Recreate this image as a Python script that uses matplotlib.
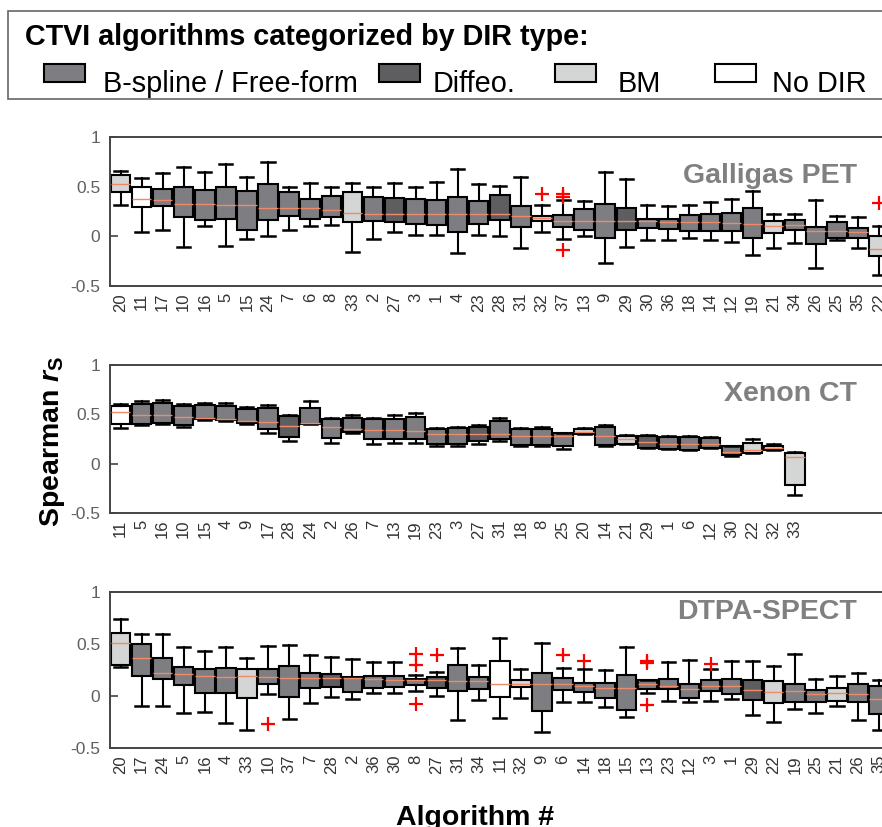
import numpy as np
import matplotlib
matplotlib.use("Agg")
import matplotlib.pyplot as plt
from matplotlib.patches import Rectangle

plt.rcParams['font.family'] = ['Liberation Sans', 'DejaVu Sans']
plt.rcParams['mathtext.fontset'] = 'custom'
plt.rcParams['mathtext.rm'] = 'Liberation Sans:bold'
plt.rcParams['mathtext.it'] = 'Liberation Sans:bold:italic'

# DIR type of each algorithm number
BM = [20, 21, 22, 32, 33]
DIFFEO = [27, 28, 29]
NO_DIR = [11]

COLORS = {"bspline": "#7d7d82", "diffeo": "#5e5e61", "bm": "#d4d5d5", "nodir": "#ffffff"}

def dir_type(alg):
  if alg in BM:
    return "bm"
  if alg in DIFFEO:
    return "diffeo"
  if alg in NO_DIR:
    return "nodir"
  return "bspline"

# ---- Galligas PET ----
pet_labels = [20, 11, 17, 10, 16, 5, 15, 24, 7, 6, 8, 33, 2, 27, 3, 1, 4, 23, 28,
              31, 32, 37, 13, 9, 29, 30, 36, 18, 14, 12, 19, 21, 34, 26, 25, 35, 22]
pet_q1 = [0.45, 0.29, 0.31, 0.19, 0.16, 0.17, 0.06, 0.16, 0.20, 0.17, 0.19, 0.14, 0.15,
          0.14, 0.12, 0.11, 0.04, 0.12, 0.16, 0.09, 0.15, 0.09, 0.06, -0.02, 0.06, 0.08,
          0.07, 0.05, 0.05, 0.05, -0.02, 0.03, 0.06, -0.08, -0.02, -0.02, -0.20]
pet_med = [0.53, 0.38, 0.37, 0.33, 0.33, 0.32, 0.32, 0.28, 0.28, 0.28, 0.26, 0.23, 0.22,
           0.22, 0.22, 0.22, 0.22, 0.22, 0.22, 0.20, 0.18, 0.15, 0.15, 0.15, 0.15, 0.15,
           0.14, 0.14, 0.14, 0.13, 0.12, 0.10, 0.11, 0.05, 0.05, 0.04, -0.13]
pet_q3 = [0.62, 0.50, 0.48, 0.50, 0.47, 0.50, 0.46, 0.53, 0.45, 0.38, 0.41, 0.45, 0.40,
          0.39, 0.38, 0.37, 0.40, 0.36, 0.42, 0.30, 0.20, 0.21, 0.27, 0.33, 0.28, 0.17,
          0.17, 0.21, 0.22, 0.23, 0.28, 0.15, 0.16, 0.09, 0.14, 0.08, 0.00]
pet_lo = [0.32, 0.04, 0.06, -0.11, 0.10, -0.10, -0.03, 0.00, 0.06, 0.10, 0.11, -0.16, -0.03,
          0.04, 0.01, 0.01, -0.17, 0.01, 0.00, -0.12, 0.04, -0.03, 0.00, -0.27, -0.11, -0.04,
          -0.04, -0.02, -0.04, -0.06, -0.19, -0.12, -0.07, -0.32, -0.04, -0.12, -0.39]
pet_hi = [0.66, 0.59, 0.64, 0.70, 0.65, 0.73, 0.60, 0.75, 0.50, 0.54, 0.50, 0.54, 0.50,
          0.54, 0.50, 0.55, 0.68, 0.53, 0.51, 0.60, 0.32, 0.37, 0.36, 0.65, 0.58, 0.32,
          0.31, 0.32, 0.35, 0.38, 0.46, 0.22, 0.22, 0.37, 0.20, 0.19, 0.10]
pet_fliers = {32: [0.43], 37: [0.43, 0.40, -0.14], 22: [0.34]}

# ---- Xenon CT ----
xe_labels = [11, 5, 16, 10, 15, 4, 9, 17, 28, 24, 2, 26, 7, 13, 19, 23, 3, 27, 31,
             18, 8, 25, 20, 14, 21, 29, 1, 6, 12, 30, 22, 32, 33]
xe_q1 = [0.40, 0.40, 0.41, 0.39, 0.45, 0.44, 0.41, 0.35, 0.27, 0.40, 0.26, 0.32, 0.25,
         0.25, 0.25, 0.20, 0.20, 0.23, 0.25, 0.19, 0.19, 0.18, 0.30, 0.19, 0.20, 0.16,
         0.15, 0.14, 0.16, 0.09, 0.11, 0.14, -0.22]
xe_med = [0.52, 0.49, 0.49, 0.47, 0.46, 0.45, 0.43, 0.42, 0.38, 0.41, 0.37, 0.35, 0.34,
          0.34, 0.33, 0.30, 0.30, 0.30, 0.30, 0.28, 0.28, 0.28, 0.32, 0.28, 0.25, 0.22,
          0.20, 0.20, 0.20, 0.12, 0.14, 0.16, 0.07]
xe_q3 = [0.58, 0.60, 0.61, 0.58, 0.59, 0.58, 0.55, 0.56, 0.48, 0.56, 0.45, 0.46, 0.45,
         0.45, 0.47, 0.35, 0.36, 0.37, 0.43, 0.35, 0.35, 0.31, 0.35, 0.37, 0.28, 0.28,
         0.27, 0.27, 0.26, 0.18, 0.21, 0.18, 0.11]
xe_lo = [0.36, 0.39, 0.40, 0.37, 0.44, 0.43, 0.40, 0.31, 0.23, 0.40, 0.21, 0.31, 0.20,
         0.21, 0.21, 0.18, 0.18, 0.20, 0.23, 0.18, 0.18, 0.15, 0.30, 0.18, 0.20, 0.16,
         0.15, 0.14, 0.16, 0.08, 0.11, 0.14, -0.32]
xe_hi = [0.60, 0.63, 0.64, 0.60, 0.61, 0.61, 0.57, 0.59, 0.49, 0.63, 0.46, 0.49, 0.46,
         0.49, 0.51, 0.36, 0.37, 0.39, 0.46, 0.36, 0.37, 0.31, 0.36, 0.39, 0.29, 0.29,
         0.28, 0.28, 0.27, 0.18, 0.25, 0.20, 0.12]
xe_fliers = {}

# ---- DTPA-SPECT ----
sp_labels = [20, 17, 24, 5, 16, 4, 33, 10, 37, 7, 28, 2, 36, 30, 8, 27, 31, 34, 11,
             32, 9, 6, 14, 18, 15, 13, 23, 12, 3, 1, 29, 22, 19, 25, 21, 26, 35]
sp_q1 = [0.30, 0.19, 0.16, 0.11, 0.03, 0.03, -0.02, 0.12, -0.01, 0.08, 0.09, 0.04, 0.08,
         0.09, 0.11, 0.08, 0.05, 0.07, -0.01, 0.09, -0.14, 0.06, 0.04, -0.02, -0.13, 0.07,
         0.07, -0.02, 0.05, 0.02, -0.04, -0.07, -0.06, -0.06, -0.05, -0.06, -0.17]
sp_med = [0.51, 0.37, 0.22, 0.21, 0.19, 0.18, 0.19, 0.18, 0.17, 0.17, 0.17, 0.17, 0.16,
          0.15, 0.15, 0.15, 0.14, 0.14, 0.12, 0.12, 0.12, 0.12, 0.10, 0.08, 0.08, 0.12,
          0.10, 0.07, 0.10, 0.10, 0.06, 0.04, 0.05, 0.02, 0.03, 0.02, -0.03]
sp_q3 = [0.61, 0.50, 0.37, 0.28, 0.26, 0.27, 0.26, 0.26, 0.29, 0.22, 0.21, 0.18, 0.19,
         0.19, 0.16, 0.18, 0.30, 0.18, 0.34, 0.15, 0.22, 0.17, 0.13, 0.13, 0.20, 0.15,
         0.16, 0.12, 0.15, 0.16, 0.15, 0.14, 0.12, 0.06, 0.08, 0.12, 0.10]
sp_lo = [0.28, -0.10, -0.10, -0.16, -0.15, -0.26, -0.33, 0.02, -0.22, -0.07, -0.01, -0.03,
         0.03, 0.03, 0.05, 0.00, -0.23, -0.04, -0.21, -0.02, -0.35, -0.06, -0.06, -0.11,
         -0.20, 0.03, -0.05, -0.06, -0.05, -0.03, -0.18, -0.25, -0.12, -0.16, -0.10, -0.23,
         -0.33]
sp_hi = [0.74, 0.60, 0.60, 0.47, 0.43, 0.47, 0.37, 0.48, 0.49, 0.39, 0.38, 0.36, 0.33,
         0.33, 0.20, 0.23, 0.46, 0.30, 0.56, 0.26, 0.51, 0.27, 0.26, 0.25, 0.47, 0.15,
         0.33, 0.35, 0.26, 0.34, 0.34, 0.29, 0.40, 0.16, 0.19, 0.22, 0.15]
sp_fliers = {10: [-0.27], 8: [0.40, 0.30, -0.08], 27: [0.39], 6: [0.39], 14: [0.34],
             13: [0.34, 0.32, -0.09], 3: [0.31]}

panels = [("Galligas PET", pet_labels, pet_q1, pet_med, pet_q3, pet_lo, pet_hi, pet_fliers,
           [0.1247, 0.6542, 0.884, 0.1802], 0.7787),
          ("Xenon CT", xe_labels, xe_q1, xe_med, xe_q3, xe_lo, xe_hi, xe_fliers,
           [0.1247, 0.3797, 0.884, 0.1790], 0.5151),
          ("DTPA-SPECT", sp_labels, sp_q1, sp_med, sp_q3, sp_lo, sp_hi, sp_fliers,
           [0.1247, 0.0955, 0.884, 0.1886], 0.2515)]

fig = plt.figure(figsize=(8.82, 8.27), dpi=100)

for name, labels, q1, med, q3, lo, hi, fliers, rect, title_y in panels:
  ax = fig.add_axes(rect)
  stats = []
  for i, lab in enumerate(labels):
    stats.append(dict(label=str(lab), q1=q1[i], med=med[i], q3=q3[i],
                      whislo=lo[i], whishi=hi[i], fliers=fliers.get(lab, [])))
  bp = ax.bxp(stats, positions=np.arange(1, len(labels) + 1), widths=0.92, capwidths=0.62,
              patch_artist=True,
              boxprops=dict(edgecolor="black", linewidth=1.5),
              whiskerprops=dict(color="black", linewidth=1.5),
              capprops=dict(color="black", linewidth=1.8),
              medianprops=dict(color="#ee8a68", linewidth=1.0),
              flierprops=dict(marker="+", markeredgecolor="red", markersize=10,
                              markeredgewidth=1.6, linestyle="none"))
  for box, lab in zip(bp["boxes"], labels):
    box.set_facecolor(COLORS[dir_type(lab)])
  ax.set_xlim(0.5, 37.5)
  ax.set_ylim(-0.5, 1)
  ax.set_yticks([-0.5, 0, 0.5, 1])
  ax.set_yticklabels(["-0.5", "0", "0.5", "1"])
  ax.tick_params(axis="y", direction="in", length=6, width=1.2, colors="#444444",
                 labelsize=12.5, labelcolor="#606060", pad=7)
  ax.tick_params(axis="x", length=0, labelsize=12, labelcolor="#333333",
                 labelrotation=90, pad=5)
  for sp in ax.spines.values():
    sp.set_color("#444444")
    sp.set_linewidth(1.4)
  fig.text(0.9717, title_y, name, ha="right", va="baseline", fontsize=20.5,
           fontweight="bold", color="#808080")

# legend frame and entries
fig.patches.append(Rectangle((0.009, 0.8803), 1.1, 0.1064, transform=fig.transFigure,
                             facecolor="white", edgecolor="#666666", linewidth=1.2))
fig.text(0.028, 0.9456, "CTVI algorithms categorized by DIR type:", ha="left",
         va="baseline", fontsize=20.7, fontweight="bold")
legend_items = [("bspline", "B-spline / Free-form", 0.0499, 0.1168),
                ("diffeo", "Diffeo.", 0.4297, 0.4910),
                ("bm", "BM", 0.6293, 0.7007),
                ("nodir", "No DIR", 0.8107, 0.8753)]
for key, text, px, tx in legend_items:
  fig.patches.append(Rectangle((px, 0.9008), 0.0465, 0.0218, transform=fig.transFigure,
                               facecolor=COLORS[key], edgecolor="black", linewidth=1.5))
  fig.text(tx, 0.8888, text, ha="left", va="baseline", fontsize=20.8)

fig.text(0.059, 0.4667, r"Spearman $r_\mathrm{S}$", rotation=90, ha="center", va="center",
         fontsize=20.5, fontweight="bold")
fig.text(0.5385, 0.0024, "Algorithm #", ha="center", va="baseline", fontsize=20.5,
         fontweight="bold")

fig.savefig("out.png", dpi=100)
